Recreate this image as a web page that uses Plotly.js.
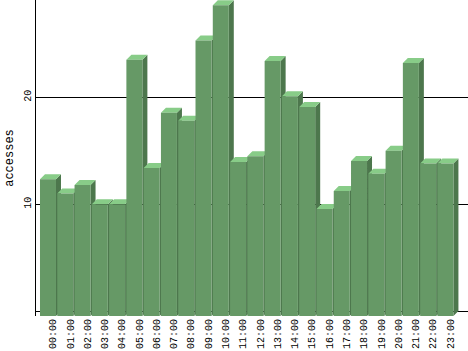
<!DOCTYPE html>
<html>
<head>
<meta charset="utf-8">
<script src="https://cdn.plot.ly/plotly-3.0.1.min.js"></script>
<style>html,body{margin:0;padding:0;background:#fff}#chart{width:468px;height:351px}</style>
</head>
<body>
<div id="chart"></div>
<script>
// ---- data ----
const hours = ['00:00','01:00','02:00','03:00','04:00','05:00','06:00','07:00','08:00','09:00','10:00','11:00',
               '12:00','13:00','14:00','15:00','16:00','17:00','18:00','19:00','20:00','21:00','22:00','23:00'];
const accesses = [12.35, 11.0, 11.8, 10.0, 10.0, 23.5, 13.4, 18.55, 17.8, 25.3, 28.6, 13.95,
                  14.5, 23.4, 20.1, 19.1, 9.55, 11.25, 14.05, 12.85, 15.0, 23.2, 13.8, 13.8];
const yTickVals = [10, 20];
const yTickText = ['10', '20'];
const yTitle = 'accesses';

// ---- geometry / style ----
const W = 468, H = 351;
const M = {l: 36, r: 0, t: 0, b: 35};
const xRange = [-0.694, 24.306];
const yRange = [-0.44, 29.09];
const pxPerX = (W - M.l - M.r) / (xRange[1] - xRange[0]);
const pxPerY = (H - M.t - M.b) / (yRange[1] - yRange[0]);
const halfW = 8 / pxPerX;       // front face half width
const depthX = 5 / pxPerX;      // pseudo-3D depth
const depthY = 5 / pxPerY;
const labelShift = 5 / pxPerX;
const colFront = '#669966', colTop = '#88cc88', colSide = '#4d774d';
const base = yRange[0];

const sideP = {x: [], y: []}, topP = {x: [], y: []}, frontP = {x: [], y: []};
accesses.forEach((v, i) => {
  const l = i - halfW, r = i + halfW;
  sideP.x.push(r, r + depthX, r + depthX, r, r, null);
  sideP.y.push(base, base + depthY, v + depthY, v, base, null);
  topP.x.push(l, l + depthX, r + depthX, r, l, null);
  topP.y.push(v, v + depthY, v + depthY, v, v, null);
  frontP.x.push(l, r, r, l, l, null);
  frontP.y.push(base, base, v, v, base, null);
});
function poly(p, c) {
  return {x: p.x, y: p.y, type: 'scatter', mode: 'lines', fill: 'toself', fillcolor: c,
          line: {width: 0, color: c}, hoverinfo: 'skip', showlegend: false, connectgaps: false};
}
const data = [poly(sideP, colSide), poly(topP, colTop), poly(frontP, colFront)];

const fam = 'Liberation Mono, DejaVu Sans Mono, monospace';
const font = {family: fam, size: 10, color: '#000'};
const layout = {
  width: W, height: H, margin: M,
  paper_bgcolor: '#fff', plot_bgcolor: '#fff', showlegend: false,
  xaxis: {range: xRange, tickmode: 'array', tickvals: hours.map((h, i) => i + labelShift), ticktext: hours,
          tickangle: -90, showgrid: false, zeroline: false, showline: false, ticks: '', tickfont: font,
          fixedrange: true},
  yaxis: {range: yRange, tickmode: 'array', tickvals: yTickVals, ticktext: yTickText, tickangle: -90,
          showgrid: true, gridcolor: '#000', gridwidth: 1, zeroline: true, zerolinecolor: '#000', zerolinewidth: 1,
          showline: true, linecolor: '#000', linewidth: 1, ticks: '', tickfont: font, layer: 'below traces',
          title: {text: yTitle, font: {family: fam, size: 12, color: '#000'}, standoff: 6},
          fixedrange: true}
};
Plotly.newPlot('chart', data, layout, {staticPlot: true, displayModeBar: false});
</script>
</body>
</html>
